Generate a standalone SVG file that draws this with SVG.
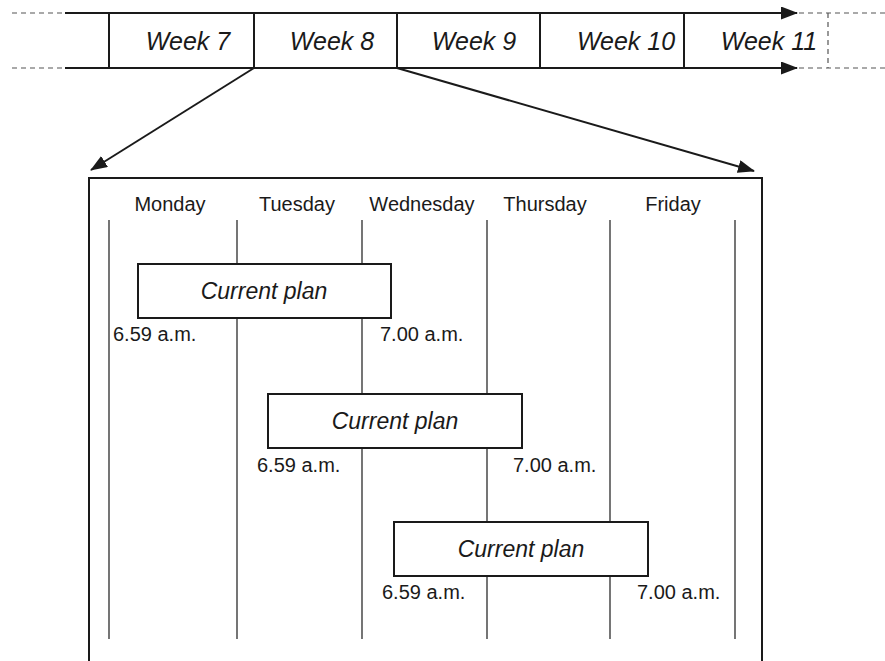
<svg xmlns="http://www.w3.org/2000/svg" width="885" height="661" viewBox="0 0 885 661">
<style>
text{font-family:"Liberation Sans",Arial,sans-serif;fill:#1a1a1a}
.wk{font-size:25px;font-style:italic;text-anchor:middle}
.day{font-size:20px;text-anchor:middle}
.tm{font-size:20px}
.pl{font-size:23px;font-style:italic;text-anchor:middle}
.thick{stroke:#1a1a1a;stroke-width:2;fill:none}
.thin{stroke:#1a1a1a;stroke-width:1.2;fill:none}
.dash{stroke:#555;stroke-width:1.2;stroke-dasharray:5 4;fill:none}
.box{fill:#fff;stroke:#1a1a1a;stroke-width:2}
</style>
<defs>
<marker id="ah" markerWidth="17" markerHeight="13" refX="16" refY="6.5" orient="auto" markerUnits="userSpaceOnUse">
<path d="M0,0 L17,6.5 L0,13 Z" fill="#1a1a1a"/>
</marker>
</defs>
<rect width="885" height="661" fill="#fff"/>
<g id="timeline">
<line class="dash" x1="12" y1="13" x2="65" y2="13"/>
<line class="dash" x1="12" y1="68" x2="65" y2="68"/>
<line class="thick" x1="65" y1="13" x2="797" y2="13" marker-end="url(#ah)"/>
<line class="thick" x1="65" y1="68" x2="797" y2="68" marker-end="url(#ah)"/>
<line class="dash" x1="799" y1="13" x2="885" y2="13"/>
<line class="dash" x1="799" y1="68" x2="885" y2="68"/>
<line class="dash" x1="828" y1="13" x2="828" y2="68"/>
<line class="thick" x1="109" y1="13" x2="109" y2="68"/>
<line class="thick" x1="254" y1="13" x2="254" y2="68"/>
<line class="thick" x1="397" y1="13" x2="397" y2="68"/>
<line class="thick" x1="540" y1="13" x2="540" y2="68"/>
<line class="thick" x1="684" y1="13" x2="684" y2="68"/>
<text class="wk" x="188" y="50">Week 7</text>
<text class="wk" x="332" y="50">Week 8</text>
<text class="wk" x="474" y="50">Week 9</text>
<text class="wk" x="626" y="50">Week 10</text>
<text class="wk" x="769" y="50">Week 11</text>
</g>
<g id="connectors">
<line class="thick" x1="254" y1="68" x2="91" y2="170" marker-end="url(#ah)"/>
<line class="thick" x1="397" y1="68" x2="754" y2="171" marker-end="url(#ah)"/>
</g>
<g id="week-detail">
<path class="thick" d="M89,661 L89,178 L762,178 L762,661"/>
<line class="thin" x1="109" y1="220" x2="109" y2="639"/>
<line class="thin" x1="237" y1="220" x2="237" y2="639"/>
<line class="thin" x1="362" y1="220" x2="362" y2="639"/>
<line class="thin" x1="487" y1="220" x2="487" y2="639"/>
<line class="thin" x1="610" y1="220" x2="610" y2="639"/>
<line class="thin" x1="735" y1="220" x2="735" y2="639"/>
<text class="day" x="170" y="211">Monday</text>
<text class="day" x="297" y="211">Tuesday</text>
<text class="day" x="422" y="211">Wednesday</text>
<text class="day" x="545" y="211">Thursday</text>
<text class="day" x="673" y="211">Friday</text>
</g>
<g id="plan1">
<rect class="box" x="138" y="264" width="253" height="54"/>
<text class="pl" x="264" y="299">Current plan</text>
<text class="tm" x="113" y="341">6.59 a.m.</text>
<text class="tm" x="380" y="341">7.00 a.m.</text>
</g>
<g id="plan2">
<rect class="box" x="268" y="394" width="254" height="54"/>
<text class="pl" x="395" y="429">Current plan</text>
<text class="tm" x="257" y="472">6.59 a.m.</text>
<text class="tm" x="513" y="472">7.00 a.m.</text>
</g>
<g id="plan3">
<rect class="box" x="394" y="522" width="254" height="54"/>
<text class="pl" x="521" y="557">Current plan</text>
<text class="tm" x="382" y="599">6.59 a.m.</text>
<text class="tm" x="637" y="599">7.00 a.m.</text>
</g>
</svg>
